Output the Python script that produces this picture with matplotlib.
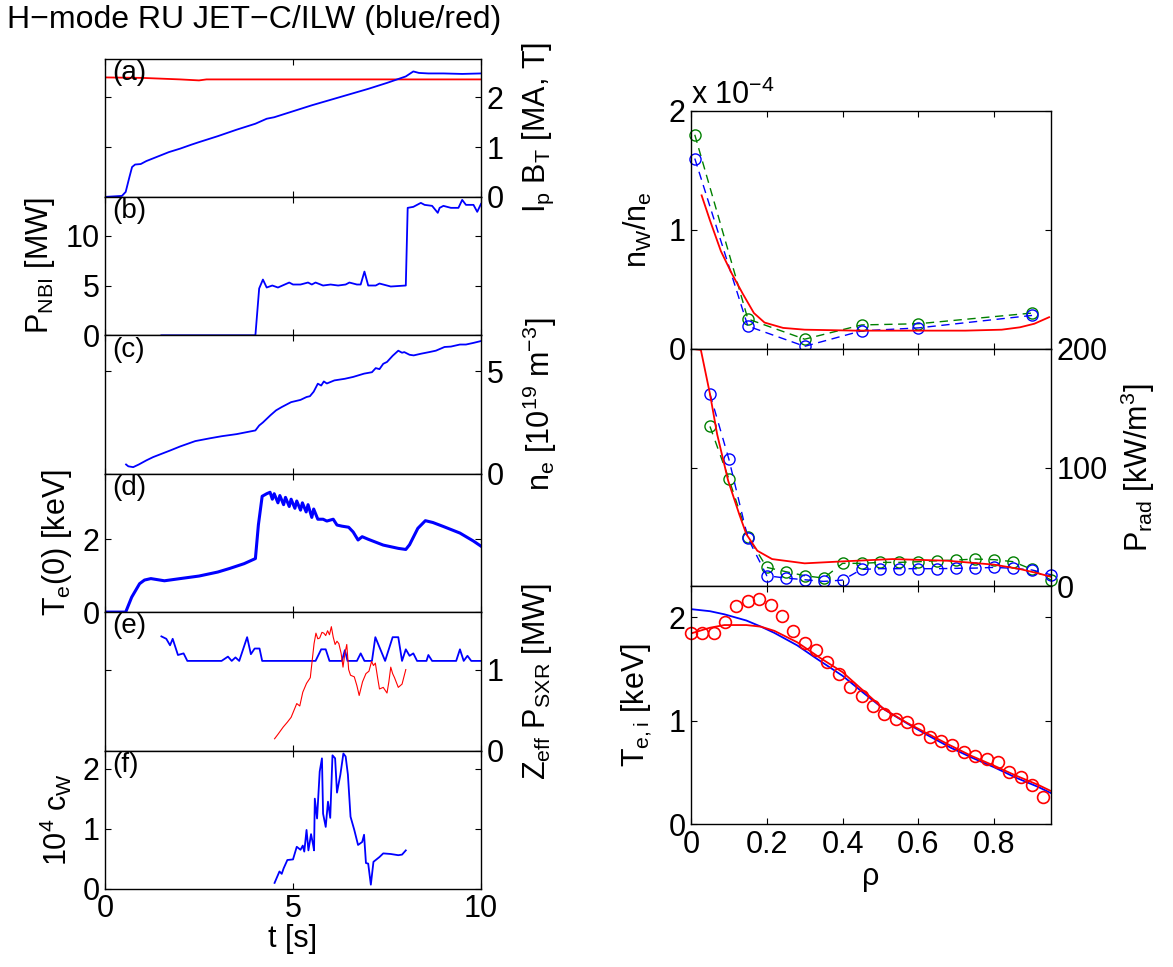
import matplotlib
matplotlib.use('Agg')
import matplotlib.pyplot as plt

plt.rcParams['font.family'] = ['Liberation Sans', 'DejaVu Sans']
plt.rcParams['mathtext.fontset'] = 'custom'
plt.rcParams['mathtext.rm'] = 'Liberation Sans'
plt.rcParams['mathtext.it'] = 'Liberation Sans'
plt.rcParams['mathtext.default'] = 'regular'
plt.rcParams['font.size'] = 22

# ---- time traces (left column) ----
# (a) plasma current (blue) and toroidal field (red)
t_ip = [0, 0.45, 0.55, 0.65, 0.72, 0.8, 0.95, 1.1, 1.3, 1.5,
        1.7, 2.0, 2.3, 2.5, 3.0, 3.5, 4.0, 4.3, 4.5, 5.0,
        5.5, 6.0, 6.5, 7.0, 7.5, 8.0, 8.2, 8.35, 8.6, 9.0,
        9.5, 10.0]
ip = [0, 0.02, 0.1, 0.4, 0.6, 0.65, 0.66, 0.72, 0.78, 0.84,
      0.9, 0.97, 1.05, 1.1, 1.22, 1.35, 1.47, 1.57, 1.6, 1.72,
      1.84, 1.95, 2.06, 2.17, 2.29, 2.42, 2.52, 2.49, 2.48, 2.48,
      2.47, 2.48]
t_bt = [0, 1.0, 2.0, 2.5, 2.7, 4.0, 10.0]
bt = [2.40, 2.39, 2.36, 2.34, 2.36, 2.36, 2.36]

# (b) NBI power
t_nbi = [1.5, 4.0, 4.1, 4.2, 4.3, 4.45, 4.6, 4.9, 5.0, 5.2,
         5.4, 5.5, 5.6, 5.8, 6.0, 6.2, 6.4, 6.5, 6.7, 6.8,
         6.9, 7.0, 7.2, 7.3, 7.5, 7.6, 8.0, 8.05, 8.2, 8.4,
         8.5, 8.7, 8.85, 8.9, 9.0, 9.2, 9.4, 9.5, 9.6, 9.8,
         9.9, 10.0]
nbi = [0, 0, 4.7, 5.6, 4.8, 5.0, 4.8, 5.3, 5.1, 5.1,
       5.3, 5.1, 5.3, 5.0, 5.1, 5.0, 5.1, 5.3, 5.1, 5.1,
       6.4, 5.0, 5.0, 5.2, 5.0, 4.9, 5.0, 12.8, 12.9, 13.3,
       13.1, 13.0, 12.3, 12.8, 13.0, 12.8, 12.8, 13.6, 13.1, 13.1,
       12.4, 13.2]

# (c) line averaged density [1e19 m^-3]
t_ne = [0.56, 0.62, 0.75, 0.9, 1.1, 1.28, 1.73, 2.0, 2.4, 2.8,
        3.11, 3.5, 4.0, 4.1, 4.2, 4.4, 4.55, 4.7, 4.95, 5.2,
        5.36, 5.45, 5.55, 5.66, 5.75, 5.82, 5.9, 6.1, 6.38, 6.6,
        6.89, 7.1, 7.2, 7.3, 7.4, 7.5, 7.65, 7.8, 7.9, 7.96,
        8.1, 8.21, 8.4, 8.62, 8.8, 9.03, 9.2, 9.44, 9.6, 9.8,
        10.0]
ne = [0.45, 0.36, 0.32, 0.45, 0.65, 0.81, 1.13, 1.33, 1.59, 1.73,
      1.83, 1.93, 2.11, 2.35, 2.5, 2.85, 3.09, 3.25, 3.49, 3.6,
      3.74, 3.78, 4.0, 4.39, 4.3, 4.5, 4.4, 4.55, 4.63, 4.72,
      4.88, 4.95, 5.15, 5.1, 5.36, 5.45, 5.75, 6.0, 5.9, 5.93,
      5.8, 5.77, 5.85, 5.93, 6.0, 6.18, 6.2, 6.3, 6.3, 6.38,
      6.47]

# (d) central electron temperature [keV]
t_te = [0, 0.55, 0.71, 0.92, 1.05, 1.22, 1.58, 2.0, 2.5, 3.0,
        3.32, 3.7, 4.0, 4.08, 4.18, 4.3, 4.39, 4.45, 4.5, 4.6,
        4.65, 4.75, 4.8, 4.9, 4.95, 5.05, 5.1, 5.2, 5.25, 5.35,
        5.4, 5.5, 5.55, 5.66, 5.8, 5.9, 6.07, 6.17, 6.3, 6.48,
        6.6, 6.73, 6.84, 7.0, 7.4, 7.8, 8.0, 8.1, 8.32, 8.52,
        8.72, 9.0, 9.44, 9.8, 10.0]
te = [0, 0, 0.41, 0.78, 0.88, 0.92, 0.86, 0.92, 0.99, 1.1,
      1.2, 1.33, 1.47, 2.4, 3.18, 3.25, 3.29, 3.1, 3.25, 3.0,
      3.2, 2.95, 3.15, 2.9, 3.1, 2.85, 3.05, 2.8, 3.0, 2.75,
      2.95, 2.6, 2.83, 2.55, 2.55, 2.5, 2.55, 2.39, 2.36, 2.33,
      2.2, 1.98, 2.07, 2.0, 1.84, 1.75, 1.72, 1.85, 2.3, 2.51,
      2.46, 2.35, 2.17, 1.95, 1.81]

# (e) Zeff (blue) and soft X-ray power [MW] (red)
t_z = [1.5, 1.63, 1.73, 1.8, 1.94, 2.09, 2.19, 3.1, 3.27, 3.37,
       3.47, 3.57, 3.78, 3.88, 3.98, 4.11, 4.18, 5.6, 5.75, 5.87,
       5.97, 6.3, 6.38, 6.45, 6.7, 6.8, 6.9, 7.1, 7.19, 7.45,
       7.65, 7.8, 7.9, 8.0, 8.1, 8.2, 8.3, 8.55, 8.6, 8.7,
       9.34, 9.44, 9.54, 9.64, 9.74, 10.0]
zeff = [1.41, 1.38, 1.30, 1.38, 1.18, 1.2, 1.107, 1.107, 1.16, 1.107,
        1.15, 1.107, 1.4, 1.19, 1.26, 1.26, 1.107, 1.107, 1.25, 1.25,
        1.107, 1.107, 1.24, 1.107, 1.107, 1.2, 1.107, 1.107, 1.4, 1.107,
        1.4, 1.4, 1.107, 1.25, 1.17, 1.2, 1.107, 1.107, 1.18, 1.107,
        1.107, 1.25, 1.107, 1.17, 1.107, 1.107]
t_sxr = [4.51, 4.6, 4.74, 4.85, 4.95, 5.1, 5.18, 5.26, 5.36, 5.46,
         5.56, 5.61, 5.66, 5.71, 5.77, 5.82, 5.87, 5.92, 5.97, 6.02,
         6.07, 6.12, 6.17, 6.22, 6.28, 6.33, 6.38, 6.43, 6.48, 6.53,
         6.63, 6.7, 6.76, 6.85, 6.94, 7.02, 7.09, 7.14, 7.19, 7.25,
         7.3, 7.4, 7.5, 7.55, 7.6, 7.65, 7.7, 7.8, 7.9, 8.0]
sxr = [0.145, 0.2, 0.29, 0.35, 0.41, 0.58, 0.55, 0.72, 0.83, 0.9,
       1.32, 1.45, 1.38, 1.39, 1.46, 1.45, 1.42, 1.48, 1.43, 1.53,
       1.4, 1.31, 1.35, 1.32, 1.2, 1.03, 1.2, 1.31, 1.0, 0.93,
       0.91, 0.8, 0.68, 0.85, 0.95, 0.98, 1.1, 1.05, 1.08, 0.9,
       0.76, 0.78, 0.71, 0.85, 1.03, 0.95, 0.9, 0.78, 0.82, 1.0]

# (f) tungsten concentration x 1e4
t_cw = [4.51, 4.64, 4.7, 4.75, 4.85, 5.0, 5.1, 5.2, 5.26, 5.3,
        5.36, 5.41, 5.48, 5.53, 5.56, 5.58, 5.64, 5.71, 5.77, 5.8,
        5.87, 5.93, 5.99, 6.05, 6.12, 6.17, 6.26, 6.34, 6.4, 6.46,
        6.53, 6.63, 6.73, 6.84, 6.89, 6.94, 7.0, 7.07, 7.14, 7.3,
        7.4, 7.6, 7.8, 7.9, 8.0]
cw = [0.1, 0.29, 0.25, 0.34, 0.48, 0.49, 0.7, 0.65, 0.72, 0.62,
      0.98, 0.64, 0.91, 0.75, 0.64, 1.5, 1.17, 1.95, 2.17, 1.25,
      1.03, 1.45, 1.18, 2.22, 2.17, 1.6, 1.9, 2.25, 2.2, 1.9,
      1.2, 0.98, 0.73, 0.78, 0.9, 0.43, 0.42, 0.07, 0.45, 0.53,
      0.59, 0.58, 0.56, 0.57, 0.64]

# ---- radial profiles (right column) ----
# n_W/n_e in units of 1e-4
rho_nw = [0.01, 0.15, 0.30, 0.45, 0.60, 0.90]
nw_green = [1.80, 0.25, 0.08, 0.20, 0.21, 0.30]
nw_blue = [1.60, 0.19, 0.02, 0.15, 0.175, 0.28]
rho_nw_red = [0.028, 0.05, 0.079, 0.108, 0.137, 0.166, 0.194, 0.243, 0.30, 0.435,
              0.60, 0.724, 0.82, 0.868, 0.906, 0.945]
nw_red = [1.29, 1.08, 0.82, 0.63, 0.46, 0.30, 0.22, 0.175, 0.16, 0.152,
          0.152, 0.152, 0.16, 0.18, 0.21, 0.265]

# radiated power density [kW/m^3]
rho_prad_red = [0.0, 0.026, 0.05, 0.069, 0.098, 0.127, 0.146, 0.175, 0.214, 0.30,
                0.397, 0.532, 0.676, 0.80, 0.868, 0.916, 0.95]
prad_red = [200, 199, 162, 128, 89, 61, 44, 30, 23, 19.4,
            21, 23, 21.6, 18.3, 14.6, 11, 8.1]
rho_prad = [0.05, 0.10, 0.15, 0.20, 0.25, 0.30, 0.35, 0.40, 0.45, 0.50,
            0.55, 0.60, 0.65, 0.70, 0.75, 0.80, 0.85, 0.90, 0.95]
prad_blue = [162, 107, 40.7, 9, 7, 5.6, 4.2, 5.3, 14.3, 14.9,
             14.9, 14.9, 14.9, 15.2, 15.4, 16, 15.2, 13.8, 9.8]
prad_green = [134.6, 90.4, 41.9, 16, 12.4, 9, 7, 19.4, 19.4, 20.2,
              20.2, 20.8, 21.6, 22.2, 23, 22.5, 20.8, 14.3, 5.3]

# temperatures [keV]
rho_ti = [0.00, 0.03, 0.06, 0.09, 0.12, 0.15, 0.18, 0.21, 0.24, 0.27,
          0.30, 0.33, 0.36, 0.39, 0.42, 0.45, 0.48, 0.51, 0.54, 0.57,
          0.60, 0.63, 0.66, 0.69, 0.72, 0.75, 0.78, 0.81, 0.84, 0.87,
          0.90, 0.93]
ti_meas = [1.845, 1.845, 1.845, 1.96, 2.106, 2.16, 2.18, 2.12, 2.01, 1.87,
           1.755, 1.68, 1.57, 1.45, 1.33, 1.235, 1.145, 1.07, 1.016, 0.984,
           0.92, 0.84, 0.80, 0.761, 0.697, 0.655, 0.629, 0.597, 0.50, 0.452,
           0.38, 0.258]
rho_t = [0.0, 0.05, 0.088, 0.146, 0.185, 0.22, 0.28, 0.34, 0.40, 0.455,
         0.51, 0.57, 0.627, 0.685, 0.74, 0.80, 0.857, 0.916, 0.95]
ti_red = [1.845, 1.90, 1.926, 1.926, 1.91, 1.87, 1.76, 1.61, 1.47, 1.29,
          1.11, 0.98, 0.87, 0.76, 0.66, 0.565, 0.47, 0.38, 0.32]
te_blue = [2.08, 2.06, 2.03, 1.97, 1.91, 1.85, 1.73, 1.58, 1.435, 1.27,
           1.11, 0.975, 0.855, 0.74, 0.645, 0.55, 0.45, 0.36, 0.30]

rho_ticks = [0, 0.2, 0.4, 0.6, 0.8]
rho_ticklabels = ['0', '0.2', '0.4', '0.6', '0.8']

W, H = 1173, 967
fig = plt.figure(figsize=(W / 100, H / 100), dpi=100)


def style(ax):
    ax.tick_params(direction='in', length=4, width=0.8, top=True, bottom=True,
                   left=True, right=True, labelsize=22, pad=4)
    for s in ax.spines.values():
        s.set_linewidth(1.0)


# left column geometry (pixels)
lx0, lx1 = 105, 481
ltop, lh = 58.5, 138.4
left_axes = []
for i in range(6):
    top = ltop + i * lh
    ax = fig.add_axes([lx0 / W, 1 - (top + lh) / H, (lx1 - lx0) / W, lh / H])
    style(ax)
    ax.set_xlim(0, 10)
    ax.set_xticks([0, 5, 10])
    if i < 5:
        ax.tick_params(labelbottom=False)
    left_axes.append(ax)

blue, red, green = '#0000ff', '#ff0000', '#008000'


def right_label(ax):
    ax.yaxis.set_label_position('right')
    ax.tick_params(labelleft=False, labelright=True)


ax = left_axes[0]
ax.plot(t_bt, bt, color=red, lw=1.3)
ax.plot(t_ip, ip, color=blue, lw=1.3)
ax.set_ylim(0, 2.78)
ax.set_yticks([0, 1, 2])
right_label(ax)
ax.set_ylabel('I$_p$ B$_T$ [MA, T]', labelpad=12)

ax = left_axes[1]
ax.plot(t_nbi, nbi, color=blue, lw=1.3)
ax.set_ylim(0, 13.9)
ax.set_yticks([0, 5, 10])
ax.set_ylabel('P$_{NBI}$ [MW]', labelpad=6)

ax = left_axes[2]
ax.plot(t_ne, ne, color=blue, lw=1.3)
ax.set_ylim(0, 6.75)
ax.set_yticks([0, 5])
right_label(ax)
ax.set_ylabel('n$_e$ [10$^{19}$ m$^{-3}$]', labelpad=12)

ax = left_axes[3]
ax.plot(t_te, te, color=blue, lw=2.2)
ax.set_ylim(0, 3.8)
ax.set_yticks([0, 2])
ax.set_ylabel('T$_e$(0) [keV]', labelpad=6)

ax = left_axes[4]
ax.plot(t_z, zeff, color=blue, lw=1.3)
ax.plot(t_sxr, sxr, color=red, lw=0.8)
ax.set_ylim(0, 1.71)
ax.set_yticks([0, 1])
right_label(ax)
ax.set_ylabel('Z$_{eff}$ P$_{SXR}$ [MW]', labelpad=12)

ax = left_axes[5]
ax.plot(t_cw, cw, color=blue, lw=1.3)
ax.set_ylim(0, 2.3)
ax.set_yticks([0, 1, 2])
ax.set_ylabel('10$^4$ c$_W$', labelpad=6)
ax.set_xlabel('t [s]', labelpad=0)

for ax, lab in zip(left_axes, 'abcdef'):
    ax.text(0.02, 0.99, '(%s)' % lab, transform=ax.transAxes, ha='left', va='top',
            fontsize=20)

fig.text(7 / W, 1 - 20 / H, 'H\u2212mode RU JET\u2212C/ILW (blue/red)',
         ha='left', va='center', fontsize=23)

# right column geometry (pixels)
rx0, rx1 = 691, 1051
rtop, rh = 111, 237.7
right_axes = []
for i in range(3):
    top = rtop + i * rh
    ax = fig.add_axes([rx0 / W, 1 - (top + rh) / H, (rx1 - rx0) / W, rh / H])
    style(ax)
    ax.set_xlim(0, 0.95)
    ax.set_xticks(rho_ticks)
    if i < 2:
        ax.tick_params(labelbottom=False)
    else:
        ax.set_xticklabels(rho_ticklabels)
    right_axes.append(ax)

mk = dict(marker='o', ms=8, mfc='none', mew=1.0, clip_on=False)

ax = right_axes[0]
ax.plot(rho_nw, nw_green, '--', color=green, lw=1.0, dashes=(6, 4), **mk)
ax.plot(rho_nw, nw_blue, '--', color=blue, lw=1.0, dashes=(6, 4), **mk)
ax.plot(rho_nw_red, nw_red, color=red, lw=1.3)
ax.set_ylim(0, 2)
ax.set_yticks([0, 1, 2])
ax.set_ylabel('n$_W$/n$_e$', labelpad=10)
ax.text(0.0, 1.0, 'x 10$^{-4}$', transform=ax.transAxes, ha='left', va='bottom',
        fontsize=22)

ax = right_axes[1]
ax.plot(rho_prad, prad_green, '--', color=green, lw=1.0, dashes=(6, 5), **mk)
ax.plot(rho_prad, prad_blue, '--', color=blue, lw=1.0, dashes=(6, 5), **mk)
ax.plot(rho_prad_red, prad_red, color=red, lw=1.3)
ax.set_ylim(0, 200)
ax.set_yticks([0, 100, 200])
right_label(ax)
ax.set_ylabel('P$_{rad}$ [kW/m$^3$]', labelpad=8)

ax = right_axes[2]
ax.plot(rho_t, te_blue, color=blue, lw=1.3)
ax.plot(rho_t, ti_red, color=red, lw=1.3)
ax.plot(rho_ti, ti_meas, 'o', color=red, ms=8.5, mfc='none', mew=1.2, clip_on=False)
ax.set_ylim(0, 2.3)
ax.set_yticks([0, 1, 2])
ax.set_ylabel('T$_{e,i}$ [keV]', labelpad=10)
ax.set_xlabel('\u03c1', labelpad=2)

fig.savefig('out.png', dpi=100)
